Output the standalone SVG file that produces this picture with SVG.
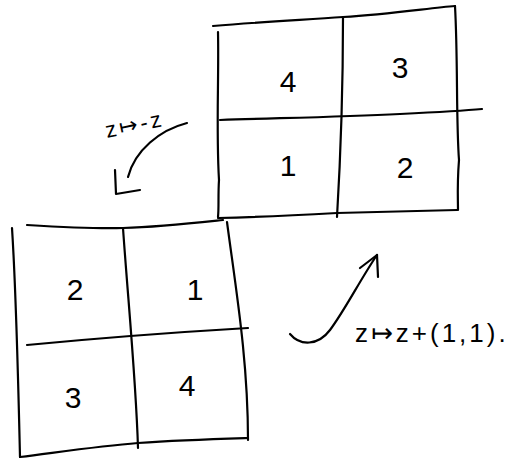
<svg xmlns="http://www.w3.org/2000/svg" width="523" height="464" viewBox="0 0 523 464">
<style>
.ln{fill:none;stroke:#000;stroke-width:2.2;stroke-linecap:round;stroke-linejoin:round}
.num{font-family:"Liberation Sans","DejaVu Sans",sans-serif;font-size:30px;fill:#000;text-anchor:middle}
.lbl{font-family:"Liberation Sans","DejaVu Sans",sans-serif;fill:#000}
</style>
<rect width="523" height="464" fill="#fff"/>
<g id="grid-top">
<path class="ln" d="M213,26 C260,22 300,20 343,17 C390,14 430,8 455,6"/>
<path class="ln" d="M218,32 C219,80 216,130 219,180 C218,195 219,208 218,217"/>
<path class="ln" d="M455,6 C458,60 456,120 459,160 C457,185 458,200 458,210"/>
<path class="ln" d="M343,17 C343,80 341,150 337,217"/>
<path class="ln" d="M220,120 C280,118 340,117 400,114 C440,112 460,111 482,109"/>
<path class="ln" d="M218,218 C260,217 300,215 337,213 C380,212 420,211 457,210"/>
<text class="num" x="288" y="92">4</text>
<text class="num" x="400" y="78">3</text>
<text class="num" x="288" y="176">1</text>
<text class="num" x="405" y="178">2</text>
</g>
<g id="grid-bottom">
<path class="ln" d="M27,225 C60,227 95,229 123,228 C160,227 195,223 223,220"/>
<path class="ln" d="M12,228 C16,290 18,370 20,457"/>
<path class="ln" d="M123,228 C128,300 136,380 138,448"/>
<path class="ln" d="M227,222 C236,290 248,360 248,440"/>
<path class="ln" d="M27,345 C100,338 180,332 248,328"/>
<path class="ln" d="M20,457 C60,452 100,446 138,443 C180,440 215,439 248,438"/>
<text class="num" x="75" y="300">2</text>
<text class="num" x="195" y="300">1</text>
<text class="num" x="73" y="408">3</text>
<text class="num" x="187" y="396">4</text>
</g>
<g id="connectors">
<path class="ln" d="M187,123 C160,130 135,150 128,177"/>
<path class="ln" d="M115,170 L116,194 L140,190"/>
<path class="ln" d="M290,334 C300,346 318,346 330,330 C345,310 360,280 377,255"/>
<path class="ln" d="M360,268 L377,255 L378,277"/>
</g>
<g id="labels">
<text class="lbl" font-size="22" letter-spacing="3" transform="translate(107,138) rotate(-12)">z↦-z</text>
<text class="lbl" font-size="26" letter-spacing="3" x="355" y="342">z↦z+(1,1).</text>
</g>
</svg>
